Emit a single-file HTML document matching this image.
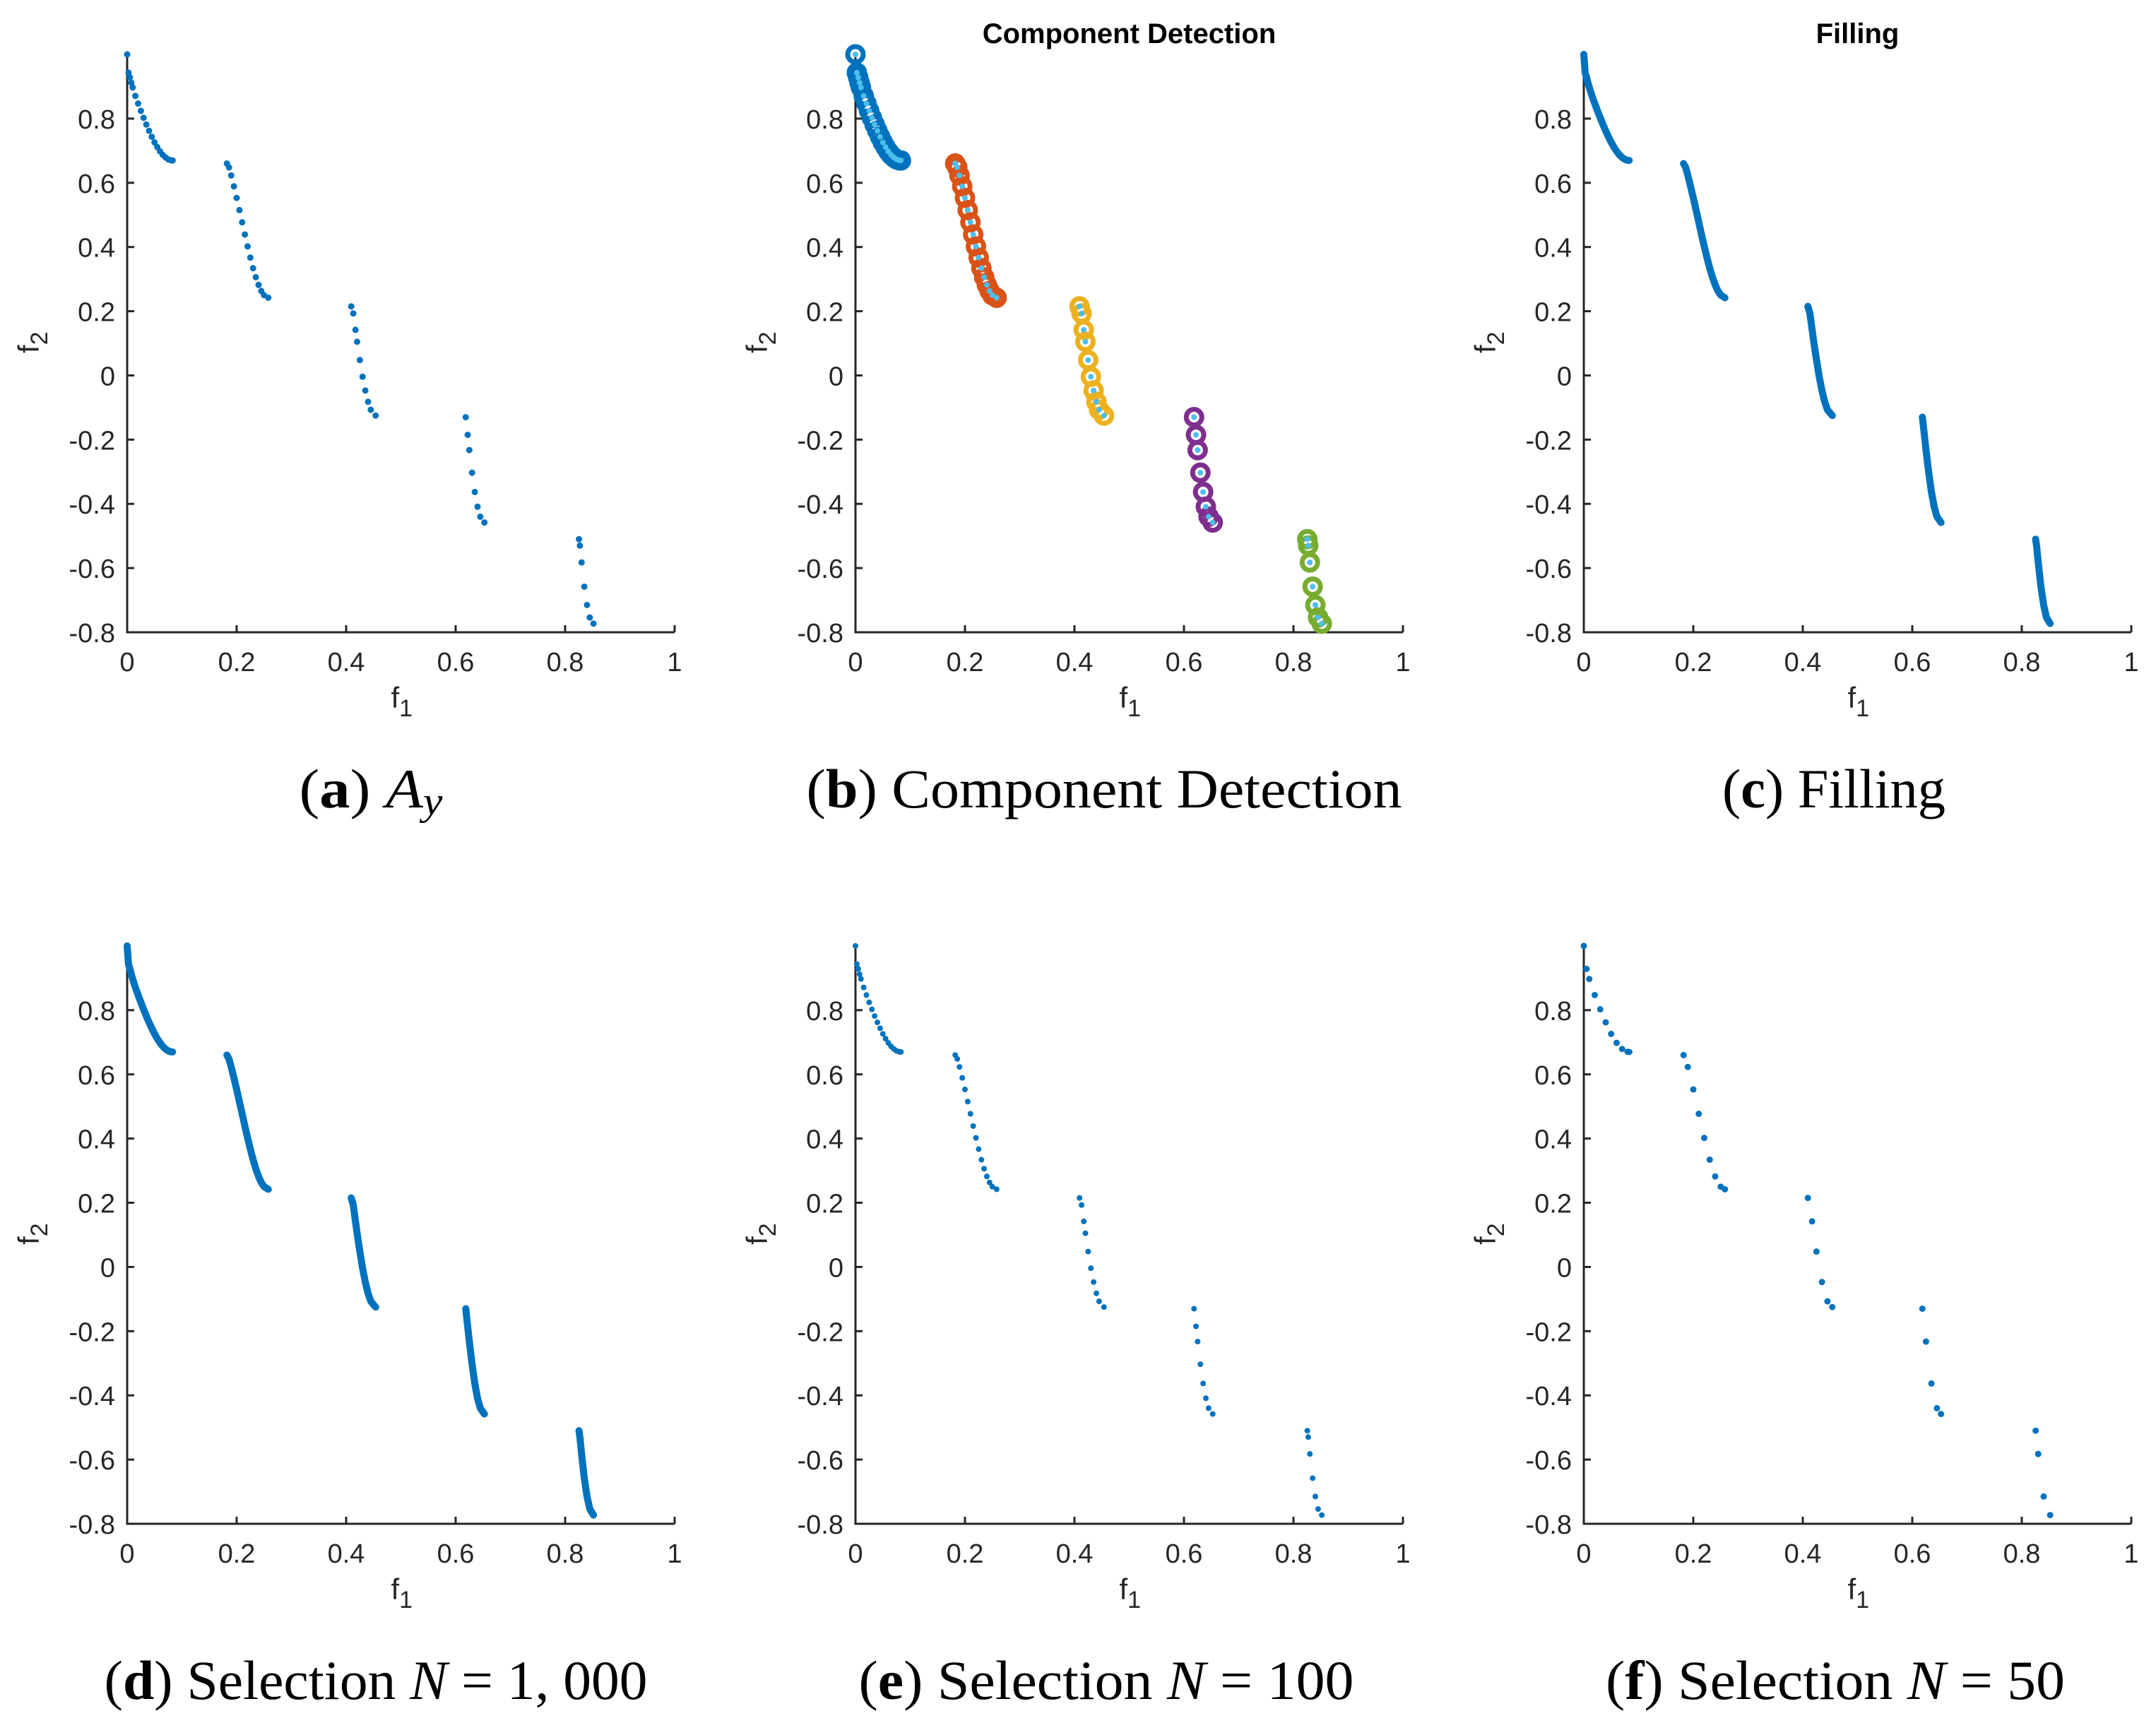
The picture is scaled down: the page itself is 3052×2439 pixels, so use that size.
<!DOCTYPE html>
<html><head><meta charset="utf-8"><style>
html,body{margin:0;padding:0;background:#fff}
svg{display:block}
</style></head><body>
<svg id="fig" xmlns="http://www.w3.org/2000/svg" width="3052" height="2439" viewBox="0 0 3052 2439"></svg>
<script>
const seg1X = [0, 0.0025, 0.005, 0.0075, 0.01, 0.015, 0.02, 0.025, 0.03, 0.035, 0.04, 0.045, 0.05, 0.055, 0.06, 0.065, 0.07, 0.075, 0.08, 0.083];
const seg1Y = [1.0, 0.943, 0.9285, 0.9117, 0.897, 0.8707, 0.847, 0.8242, 0.8025, 0.7817, 0.762, 0.7434, 0.726, 0.7112, 0.698, 0.687, 0.679, 0.6731, 0.6702, 0.6697];
const seg2X = [0.1822, 0.186, 0.19, 0.195, 0.2, 0.205, 0.21, 0.215, 0.22, 0.225, 0.23, 0.235, 0.24, 0.245, 0.25, 0.2578];
const seg2Y = [0.66, 0.648, 0.623, 0.589, 0.553, 0.515, 0.477, 0.439, 0.402, 0.367, 0.334, 0.306, 0.282, 0.263, 0.25, 0.242];
const seg3X = [0.4093, 0.413, 0.417, 0.42, 0.425, 0.43, 0.435, 0.44, 0.445, 0.4539];
const seg3Y = [0.215, 0.193, 0.142, 0.105, 0.048, -0.004, -0.047, -0.082, -0.107, -0.125];
const seg4X = [0.6184, 0.622, 0.625, 0.63, 0.635, 0.64, 0.645, 0.6525];
const seg4Y = [-0.13, -0.185, -0.2325, -0.303, -0.363, -0.409, -0.44, -0.458];
const seg5X = [0.8253, 0.827, 0.83, 0.835, 0.84, 0.845, 0.8518];
const seg5Y = [-0.51, -0.53, -0.5825, -0.658, -0.715, -0.754, -0.773];
const segsX = [seg1X, seg2X, seg3X, seg4X, seg5X];
const segsY = [seg1Y, seg2Y, seg3Y, seg4Y, seg5Y];
const xTicks = [0, 0.2, 0.4, 0.6, 0.8, 1];
const xTickLabels = ["0", "0.2", "0.4", "0.6", "0.8", "1"];
const yTicks = [-0.8, -0.6, -0.4, -0.2, 0, 0.2, 0.4, 0.6, 0.8];
const yTickLabels = ["-0.8", "-0.6", "-0.4", "-0.2", "0", "0.2", "0.4", "0.6", "0.8"];
const compColors = ["#0072BD", "#D95319", "#EDB120", "#7E2F8E", "#77AC30"];

const NS = "http://www.w3.org/2000/svg";
const svg = document.getElementById("fig");
function mk(tag, attrs, parent) {
  const e = document.createElementNS(NS, tag);
  for (const k in attrs) e.setAttribute(k, attrs[k]);
  (parent || svg).appendChild(e);
  return e;
}
const colX = [180, 1211, 2242];
const rowY = [895, 2157];
const PW = 775, PH = 818;
function panel(col, row, name) {
  const x0 = colX[col], yb = rowY[row];
  const g = mk("g", {});
  
  
  const sx = v => x0 + v * PW;
  const sy = v => yb - (v + 0.8) / 1.8 * PH;
  const ax = mk("path", {d: `M${x0},${sy(1.0)} V${yb} H${x0 + PW}`, fill: "none", stroke: "#262626", "stroke-width": 3}, g);
  
  
  xTicks.forEach((t, i) => {
    mk("line", {x1: sx(t), x2: sx(t), y1: yb, y2: yb - 10, stroke: "#262626", "stroke-width": 3}, g);
    const tx = mk("text", {x: sx(t), y: yb + 55, "text-anchor": "middle", "font-family": "Liberation Sans, sans-serif", "font-size": 38, fill: "#262626"}, g);
    tx.textContent = xTickLabels[i];
    
    
  });
  yTicks.forEach((t, i) => {
    mk("line", {x1: x0, x2: x0 + 10, y1: sy(t), y2: sy(t), stroke: "#262626", "stroke-width": 3}, g);
    const ty = mk("text", {x: x0 - 17, y: sy(t) + 14, "text-anchor": "end", "font-family": "Liberation Sans, sans-serif", "font-size": 38, fill: "#262626"}, g);
    ty.textContent = yTickLabels[i];
    
    
  });
  const xl = mk("text", {x: x0 + PW / 2 - 14, y: yb + 107, "font-family": "Liberation Sans, sans-serif", "font-size": 42, fill: "#262626"}, g);
  xl.innerHTML = 'f<tspan dy="12" font-size="34">1</tspan>';
  
  
  const yl = mk("text", {transform: `translate(${x0 - 125},${yb - PH / 2 + 14}) rotate(-90)`, "font-family": "Liberation Sans, sans-serif", "font-size": 42, fill: "#262626"}, g);
  yl.innerHTML = 'f<tspan dy="12" font-size="34">2</tspan>';
  
  
  return {g, sx, sy, x0};
}
function title(p, txt) {
  const t = mk("text", {x: p.x0 + PW / 2, y: 61, "text-anchor": "middle", "font-family": "Liberation Sans, sans-serif", "font-weight": "bold", "font-size": 40, fill: "#000"}, p.g);
  t.textContent = txt;
  
  
}
function caption(cx, y, w, html, name) {
  const t = mk("text", {x: cx, y: y, "text-anchor": "middle", "font-family": "Liberation Serif, serif", "font-size": 78, fill: "#000", textLength: w, lengthAdjust: "spacingAndGlyphs"});
  t.innerHTML = html;
  
  
}
function dots(p, r, step, color) {
  segsX.forEach((xs, s) => {
    xs.forEach((xv, i) => {
      if (i % step !== 0 && i !== xs.length - 1) return;
      const c = mk("circle", {cx: p.sx(xv), cy: p.sy(segsY[s][i]), r: r, fill: color || "#0072BD"}, p.g);
      
      
    });
  });
}
function lines(p, w) {
  segsX.forEach((xs, s) => {
    const d = xs.map((xv, i) => (i ? "L" : "M") + p.sx(xv).toFixed(1) + "," + p.sy(segsY[s][i]).toFixed(1)).join(" ");
    const l = mk("path", {d: d, fill: "none", stroke: "#0072BD", "stroke-width": w, "stroke-linecap": "round", "stroke-linejoin": "round"}, p.g);
    
    
  });
}
const pa = panel(0, 0, "panel-a");
dots(pa, 4.5, 1);
const pb = panel(1, 0, "panel-b");
title(pb, "Component Detection");
segsX.forEach((xs, s) => {
  xs.forEach((xv, i) => {
    const c = mk("circle", {cx: pb.sx(xv), cy: pb.sy(segsY[s][i]), r: 11, fill: "none", stroke: compColors[s], "stroke-width": 7}, pb.g);
    
    
  });
});
dots(pb, 4, 1, "#4DBEEE");
const pc = panel(2, 0, "panel-c");
title(pc, "Filling");
lines(pc, 10);
const pd = panel(0, 1, "panel-d");
lines(pd, 10);
const pe = panel(1, 1, "panel-e");
dots(pe, 4, 1);
const pf = panel(2, 1, "panel-f");
dots(pf, 4.5, 2);

caption(525, 1143, 203, '(<tspan font-weight="bold">a</tspan>) <tspan font-style="italic">A<tspan font-size="56" dy="10">y</tspan></tspan>', "caption-a");
caption(1563, 1143, 843, '(<tspan font-weight="bold">b</tspan>) Component Detection', "caption-b");
caption(2596, 1143, 316, '(<tspan font-weight="bold">c</tspan>) Filling', "caption-c");
caption(532, 2405, 769, '(<tspan font-weight="bold">d</tspan>) Selection <tspan font-style="italic">N</tspan> = 1, 000', "caption-d");
caption(1566, 2405, 701, '(<tspan font-weight="bold">e</tspan>) Selection <tspan font-style="italic">N</tspan> = 100', "caption-e");
caption(2598, 2405, 650, '(<tspan font-weight="bold">f</tspan>) Selection <tspan font-style="italic">N</tspan> = 50', "caption-f");
</script>
</body></html>
